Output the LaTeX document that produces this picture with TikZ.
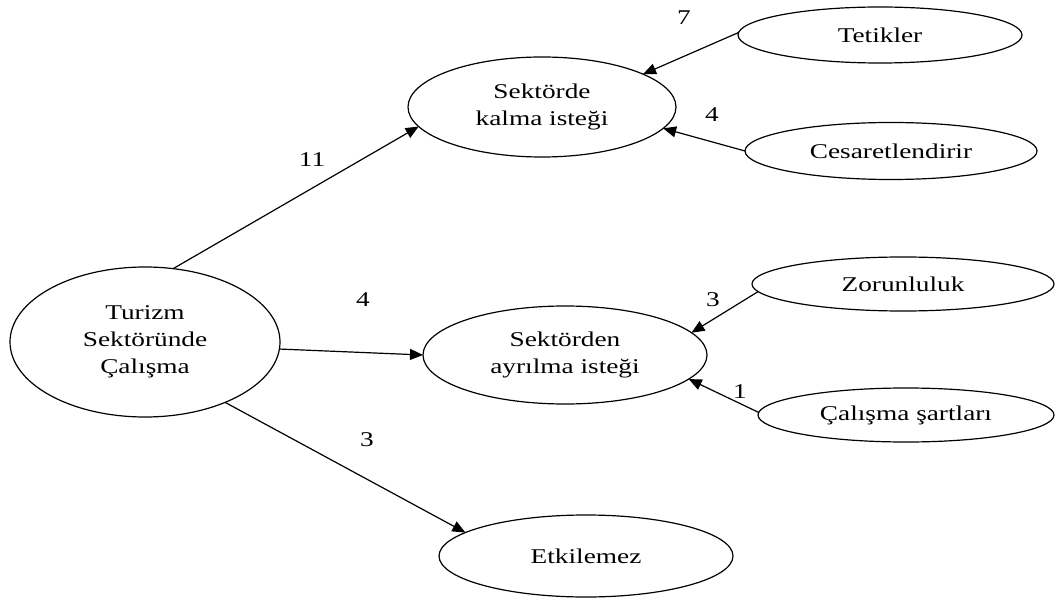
\documentclass[tikz,border=0pt]{standalone}
\usepackage{fontspec}
\setmainfont[FakeStretch=1.3]{Liberation Serif}
\usetikzlibrary{shapes.geometric,arrows.meta}

\begin{document}
\begin{tikzpicture}[x=1pt,y=-1pt,
  every node/.style={font=\fontsize{21}{27}\selectfont},
  oval/.style={ellipse,draw,line width=1.2pt,inner sep=0pt,outer sep=0pt,align=center},
  link/.style={line width=1.2pt,-{Triangle[length=13pt,width=11pt]}},
  count/.style={inner sep=0pt}]
  \useasboundingbox (0,0) rectangle (1056,601);

  % nodes
  \node[oval,minimum width=270pt,minimum height=150pt] (tur) at (145,342) {Turizm\\Sektöründe\\Çalışma};
  \node[oval,minimum width=268pt,minimum height=100pt] (kal) at (542,107) {Sektörde\\kalma isteği};
  \node[oval,minimum width=284pt,minimum height=98pt] (ayr) at (565,355) {Sektörden\\ayrılma isteği};
  \node[oval,minimum width=294pt,minimum height=82pt] (etk) at (586,556) {Etkilemez};
  \node[oval,minimum width=284pt,minimum height=56pt] (tet) at (880,35) {Tetikler};
  \node[oval,minimum width=292pt,minimum height=57pt] (ces) at (891,151) {Cesaretlendirir};
  \node[oval,minimum width=302pt,minimum height=54pt] (zor) at (903,284) {Zorunluluk};
  \node[oval,minimum width=296pt,minimum height=54pt] (cal) at (906,415) {Çalışma şartları};

  % connectors
  \draw[link] (tur.69) -- (kal.189);
  \draw[link] (tur.357) -- (ayr.180);
  \draw[link] (tur.323) -- (etk.169);
  \draw[link] (tet.179) -- (kal.18);
  \draw[link] (ces.180) -- (kal.350);
  \draw[link] (zor.183) -- (ayr.10);
  \draw[link] (cal.179) -- (ayr.349);

  % counts
  \node[count] (n11) at (312,160) {11};
  \node[count] (n4a) at (363,300) {4};
  \node[count] (n3a) at (367,440) {3};
  \node[count] (n7) at (684,18) {7};
  \node[count] (n4b) at (712,115) {4};
  \node[count] (n3b) at (713,300) {3};
  \node[count] (n1) at (740,392) {1};
\end{tikzpicture}
\end{document}
